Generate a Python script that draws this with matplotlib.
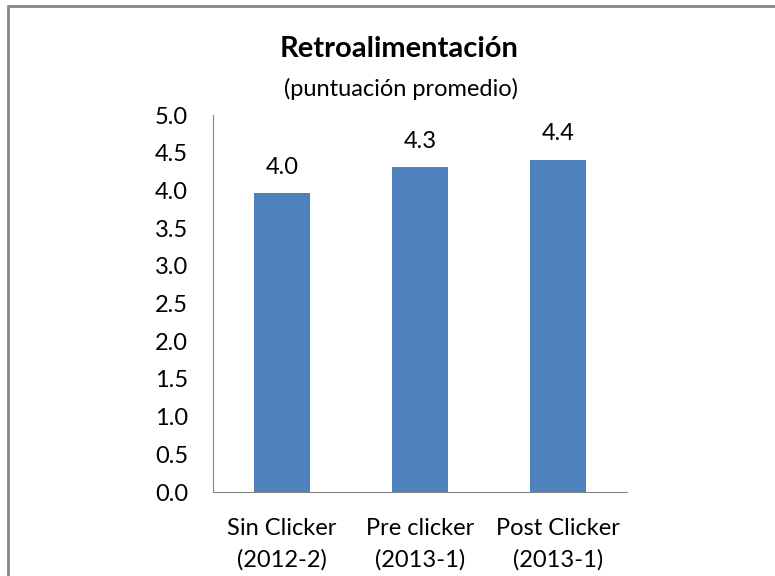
import matplotlib.pyplot as plt
from matplotlib.patches import Rectangle

# data
categories = ['Sin Clicker\n(2012-2)', 'Pre clicker\n(2013-1)', 'Post Clicker\n(2013-1)']
values = [3.96, 4.31, 4.41]
labels = ['4.0', '4.3', '4.4']

plt.rcParams['font.family'] = ['Lato', 'DejaVu Sans']

fig = plt.figure(figsize=(7.75, 5.76), dpi=100)
ax = fig.add_axes([0.2748, 0.1458, 0.5342, 0.6545])

x = range(len(categories))
bars = ax.bar(x, values, width=0.4, color='#4F81BD')
for b, lab in zip(bars, labels):
    ax.text(b.get_x() + b.get_width() / 2, b.get_height() + 0.2, lab,
            ha='center', va='bottom', fontsize=17)

ax.set_xlim(-0.5, 2.5)
ax.set_ylim(0, 5)
ax.set_yticks([i * 0.5 for i in range(11)])
ax.set_yticklabels([f'{i * 0.5:.1f}' for i in range(11)], fontsize=17)
ax.set_xticks(list(x))
ax.set_xticklabels(categories, fontsize=17, linespacing=1.55)
ax.tick_params(axis='both', length=0)
ax.tick_params(axis='y', pad=18)
ax.tick_params(axis='x', pad=19)
for s in ['top', 'right']:
    ax.spines[s].set_visible(False)
ax.spines['left'].set_color('#868686')
ax.spines['bottom'].set_color('#868686')

fig.text(0.515, 0.915, 'Retroalimentación', ha='center', va='center',
         fontsize=21, fontweight='bold')
fig.text(0.518, 0.845, '(puntuación promedio)', ha='center', va='center',
         fontsize=17)

# outer chart border (cropped on right and bottom)
fig.patches.append(Rectangle((0.0105, -0.05), 1.1, 1.0396, transform=fig.transFigure,
                             fill=False, edgecolor='#868686', linewidth=2))

fig.savefig('out.png', dpi=100)
